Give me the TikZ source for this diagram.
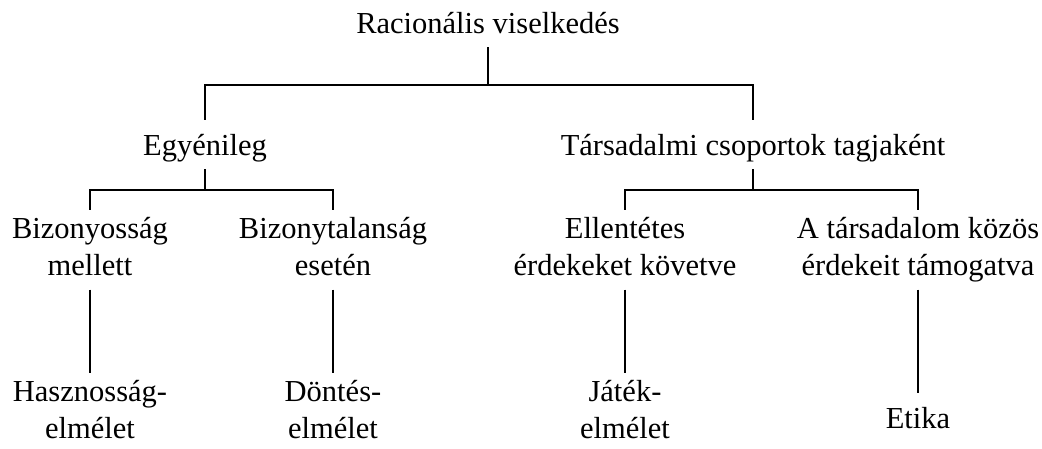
\documentclass[tikz,border=0pt]{standalone}
\usepackage{fontspec}
\setmainfont{Liberation Serif}
\usepackage{tikz}
\usetikzlibrary{positioning,calc}

\newcommand{\lstrut}{\rule[-7pt]{0pt}{35pt}}

\begin{document}
\begin{tikzpicture}[
    x=1pt, y=1pt,
    lbl/.style={anchor=north, align=center, inner xsep=2pt, inner ysep=7pt,
        font=\fontsize{30.5}{37}\selectfont,
        execute at begin node=\lstrut, execute at end node=\lstrut},
    conn/.style={line width=1.8pt}
]
    \useasboundingbox (0,0) rectangle (1042,449);

    % tree levels
    \node[lbl] (root) at (488,451) {Racionális viselkedés};
    \node[lbl] (egyen) at (205,329) {Egyénileg};
    \node[lbl] (tars) at (753,329) {Társadalmi csoportok tagjaként};
    \node[lbl] (biz) at (90,239) {Bizonyosság\\mellett};
    \node[lbl] (bizt) at (333,239) {Bizonytalanság\\esetén};
    \node[lbl] (ellen) at (625,239) {Ellentétes\\érdekeket követve};
    \node[lbl] (kozos) at (918,239) {A társadalom közös\\érdekeit támogatva};
    \node[lbl] (haszn) at (90,76) {Hasznosság-\\elmélet};
    \node[lbl] (dont) at (333,76) {Döntés-\\elmélet};
    \node[lbl] (jatek) at (625,76) {Játék-\\elmélet};
    \node[lbl] (etika) at (918,56) {Etika};

    % junctions
    \coordinate (j0) at (488,364);
    \coordinate (j1) at (205,259);
    \coordinate (j2) at (753,259);

    \draw[conn] (root.south) -- (j0);
    \draw[conn] (egyen.north) |- (j0) -| (tars.north);
    \draw[conn] (egyen.south) -- (j1);
    \draw[conn] (biz.north) |- (j1) -| (bizt.north);
    \draw[conn] (tars.south) -- (j2);
    \draw[conn] (ellen.north) |- (j2) -| (kozos.north);
    \draw[conn] (biz) -- (haszn);
    \draw[conn] (bizt) -- (dont);
    \draw[conn] (ellen) -- (jatek);
    \draw[conn] (kozos) -- (etika);
\end{tikzpicture}
\end{document}
